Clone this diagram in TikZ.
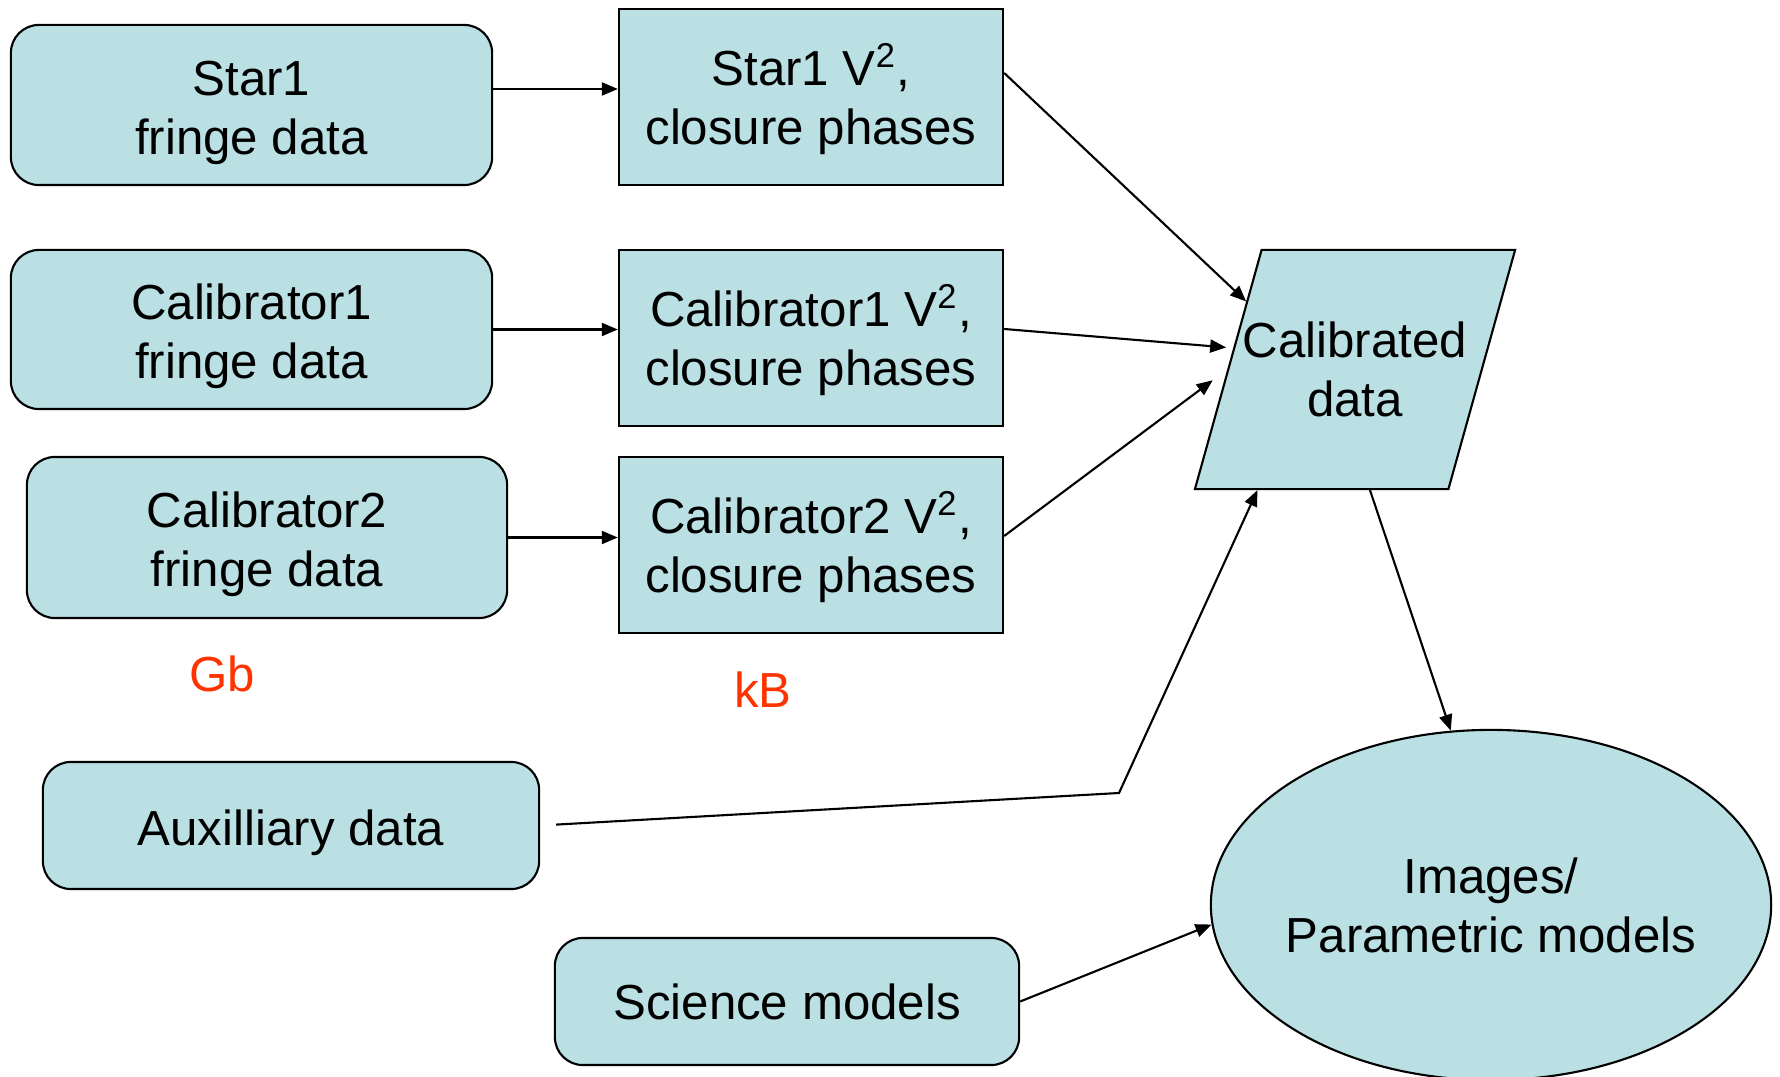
\documentclass[tikz,border=0pt]{standalone}
\usepackage{fontspec}
\setmainfont{Liberation Sans}
\usepackage{tikz}
\usetikzlibrary{positioning,arrows.meta,shapes.geometric,calc}
\definecolor{boxfill}{RGB}{186,224,228}
\definecolor{sizered}{RGB}{255,51,0}

\begin{document}
\begin{tikzpicture}[x=.01cm,y=-.01cm,
    every node/.style={font=\fontsize{14pt}{16.8pt}\selectfont,align=center},
    rawbox/.style={draw,fill=boxfill,rounded corners=.28cm,line width=.6pt,inner sep=0pt},
    lowered/.style={execute at begin node={\rule{0pt}{#1}}},
    visbox/.style={draw,fill=boxfill,line width=.6pt,inner sep=0pt,minimum width=3.84cm,minimum height=1.76cm,lowered=30pt},
    flow/.style={-{Triangle[length=.16cm,width=.13cm]},line width=.6pt},
    sizelabel/.style={text=sizered}]
    \useasboundingbox (0,0) rectangle (1780,1077);
    \node[rawbox,lowered=31pt,minimum width=4.81cm,minimum height=1.6cm] (starraw) at (251.5,105) {Star1\\fringe data};
    \node[rawbox,lowered=31pt,minimum width=4.81cm,minimum height=1.59cm] (cal1raw) at (251.5,329.5) {Calibrator1\\fringe data};
    \node[rawbox,lowered=31pt,minimum width=4.8cm,minimum height=1.61cm] (cal2raw) at (267,537.5) {Calibrator2\\fringe data};
    \node[rawbox,lowered=14pt,minimum width=4.96cm,minimum height=1.27cm] (aux) at (291,825.5) {Auxilliary data};
    \node[rawbox,minimum width=4.64cm,minimum height=1.27cm] (sci) at (787,1001.5) {Science models};
    \node[visbox] (starvis) at (811,97) {Star1 V\textsuperscript{2},\\closure phases};
    \node[visbox] (cal1vis) at (811,338) {Calibrator1 V\textsuperscript{2},\\closure phases};
    \node[visbox] (cal2vis) at (811,545) {Calibrator2 V\textsuperscript{2},\\closure phases};
    \node[trapezium,trapezium left angle=55,trapezium right angle=125,trapezium stretches body=true,
      draw,fill=boxfill,line width=.6pt,inner xsep=-1cm,inner ysep=0pt,minimum width=3.2cm,minimum height=2.39cm] (caldata) at (1355,369.5) {Calibrated\\data};
    \node[ellipse,draw,fill=boxfill,line width=.6pt,inner xsep=-.2cm,inner ysep=0pt,minimum width=5.6cm,minimum height=3.5cm] (model) at (1491,905) {Images/\\Parametric models};
    \node[sizelabel] (gb) at (222,674) {Gb};
    \node[sizelabel] (kb) at (763,690) {kB};
    \coordinate (auxbend) at (1119,793);
    \draw[flow] (starraw.east |- 0,89) -- (starvis.west |- 0,89);
    \draw[flow] (cal1raw.east) -- (cal1vis.west |- cal1raw.east);
    \draw[flow] (cal2raw.east) -- (cal2vis.west |- cal2raw.east);
    \draw[flow] ($(starvis.east)+(0,-24)$) -- (caldata.148);
    \draw[flow,shorten >=.07cm] ($(cal1vis.east)+(0,-9)$) -- (caldata.170);
    \draw[flow,shorten >=.18cm] ($(cal2vis.east)+(0,-9)$) -- (caldata.180);
    \draw[flow,shorten <=.16cm] (aux.east) -- (auxbend) -- ($(caldata.bottom left corner)!.25!(caldata.bottom right corner)$);
    \draw[flow] ($(caldata.bottom left corner)!.69!(caldata.bottom right corner)$) -- (model.103);
    \draw[flow] (sci.east) -- (model.184);
\end{tikzpicture}
\end{document}
